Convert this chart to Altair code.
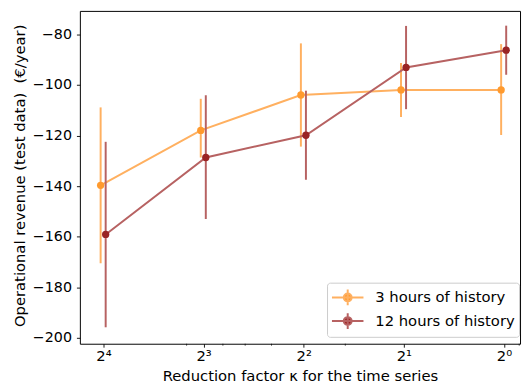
import altair as alt
import pandas as pd

kappa = [16, 8, 4, 2, 1]
series_names = ["3 hours of history", "12 hours of history"]
x_shift = [1.02, 0.985]

rev_3h = [-139.7, -118.0, -104.0, -102.0, -102.0]
low_3h = [-170.5, -128.7, -124.4, -112.7, -119.8]
high_3h = [-108.9, -105.5, -83.6, -91.4, -83.9]

rev_12h = [-159.1, -128.7, -119.9, -93.1, -86.3]
low_12h = [-195.8, -153.0, -137.5, -109.6, -96.0]
high_12h = [-122.5, -104.1, -102.3, -76.7, -76.6]

line_colors = ["#ffb060", "#b76262"]
marker_colors = ["#ff9a2e", "#9a2424"]

x_major = [1, 2, 4, 8, 16]
x_minor = [0.9, 3, 5, 6, 7, 9]
y_ticks = [-200, -180, -160, -140, -120, -100, -80]

rows = []
for name, f, revs, lows, highs in zip(series_names, x_shift,
                                      [rev_3h, rev_12h], [low_3h, low_12h], [high_3h, high_12h]):
    for k, v, lo, hi in zip(kappa, revs, lows, highs):
        rows.append(dict(series=name, kappa=k * f, rev=v, lo=lo, hi=hi))
df = pd.DataFrame(rows)
minor_df = pd.DataFrame({"kappa": x_minor})

FONT = "DejaVu Sans"

xscale = alt.Scale(type="log", base=2, domain=[0.895, 18.84], reverse=True, nice=False)
yscale = alt.Scale(domain=[-202.3, -70.77], nice=False, zero=False)

x_axis = alt.Axis(
    values=x_major,
    labelExpr="'2' + ['⁰','¹','²','³','⁴'][round(log(datum.value)/log(2))]",
    title="Reduction factor κ for the time series",
    titleFont=FONT, titleFontSize=15, titleFontWeight="normal", titleColor="black",
    titleY=37, titleBaseline="alphabetic",
    labelFont=FONT, labelFontSize=15, labelColor="black", labelPadding=2,
    tickSize=3.5, tickColor="black", tickWidth=0.9, domain=False, grid=False,
    labelFlush=False, labelOverlap=False,
)
y_axis = alt.Axis(
    values=y_ticks,
    labelExpr="datum.value < 0 ? '−' + format(-datum.value, 'd') : format(datum.value, 'd')",
    title="Operational revenue (test data)\u00a0\u00a0(€/year)",
    titleFont=FONT, titleFontSize=15, titleFontWeight="normal", titleColor="black",
    titleX=-61, titleY=167, titleAngle=-90, titleAlign="center", titleBaseline="middle",
    labelFont=FONT, labelFontSize=14.5, labelColor="black", labelPadding=5,
    tickSize=3.5, tickColor="black", tickWidth=0.9, domain=False, grid=False,
    labelFlush=False,
)

legend_symbol = ("M-1.6,0H1.6M0,-0.8V0.8"
                 "M-0.4,0A0.4,0.4 0 1,0 0.4,0A0.4,0.4 0 1,0 -0.4,0Z")
legend = alt.Legend(
    title=None, orient="none", legendX=251, legendY=276,
    symbolType=legend_symbol, symbolSize=400, symbolStrokeWidth=2,
    symbolOffset=6, labelOffset=17, labelFont=FONT, labelFontSize=15,
    labelColor="black", labelLimit=300, padding=4, rowPadding=0,
    labelExpr="datum.label + '\u00a0\u00a0\u00a0'",
    strokeColor="#cccccc", fillColor="white", cornerRadius=3,
)

stroke_enc = alt.Stroke("series:N", scale=alt.Scale(domain=series_names, range=line_colors),
                        legend=legend)
fill_enc = alt.Fill("series:N", scale=alt.Scale(domain=series_names, range=marker_colors),
                    legend=legend)

X = alt.X("kappa:Q", scale=xscale, axis=x_axis)

base = alt.Chart(df)
layers = []
for i, name in enumerate(series_names):
    sub = base.transform_filter(alt.datum.series == name)
    bars = sub.mark_rule(strokeWidth=2).encode(
        x=X,
        y=alt.Y("lo:Q", scale=yscale, axis=y_axis),
        y2="hi:Q",
        stroke=stroke_enc,
    )
    line = sub.mark_line(strokeWidth=2).encode(
        x=X,
        y=alt.Y("rev:Q", scale=yscale, axis=y_axis),
        stroke=stroke_enc,
    )
    pts = sub.mark_point(filled=True, size=55, opacity=1, shape="circle").encode(
        x=X,
        y=alt.Y("rev:Q", scale=yscale, axis=y_axis),
        fill=fill_enc,
    )
    layers += [bars, line, pts]

minor_ticks = alt.Chart(minor_df).mark_rule(color="black", strokeWidth=0.7).encode(
    x=X, y=alt.value(338), y2=alt.value(340),
)
layers.append(minor_ticks)

chart = alt.layer(*layers).properties(
    width=447, height=338,
    autosize=alt.AutoSizeParams(type="none"),
    padding={"left": 73, "top": 0, "right": 2, "bottom": 42},
    background="white",
).configure_view(stroke="black", strokeWidth=1)

chart.save("out.html", embed_options={"renderer": "svg", "actions": False})
